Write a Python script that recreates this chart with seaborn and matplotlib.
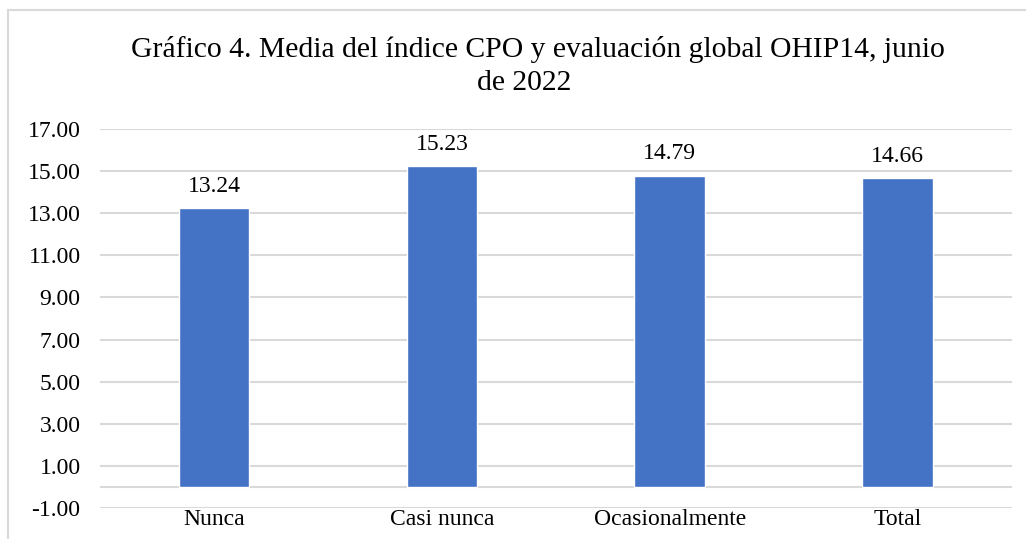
import pandas as pd
import seaborn as sns
from matplotlib import pyplot as plt
from matplotlib.patches import Rectangle

categorias = ['Nunca', 'Casi nunca', 'Ocasionalmente', 'Total']
media_cpo = [13.24, 15.23, 14.79, 14.66]
ticks_y = [-1, 1, 3, 5, 7, 9, 11, 13, 15, 17]

df = pd.DataFrame({'categoria': categorias, 'media': media_cpo})

sns.set_style('white')
plt.rcParams['font.family'] = ['Liberation Serif', 'DejaVu Serif']

fig = plt.figure(figsize=(10.26, 5.39), dpi=100)
ax = fig.add_axes([0.0975, 0.0575, 0.8885, 0.7032])
sns.barplot(data=df, x='categoria', y='media', color='#4472C4', width=0.31,
            saturation=1, ax=ax, zorder=3)

ax.set_ylim(-1, 17)
ax.set_yticks(ticks_y)
ax.set_yticklabels([f'{t:.2f}' for t in ticks_y], fontsize=17, color='black')
ax.tick_params(axis='x', labelsize=17, length=0, pad=1, labelcolor='black')
ax.tick_params(axis='y', length=0, pad=14)
for t in ticks_y:
    ax.axhline(t, color='#D9D9D9', lw=1.5, zorder=1)
ax.axhline(0, color='#D9D9D9', lw=1.5, zorder=2)
for s in ax.spines.values():
    s.set_visible(False)
ax.set_xlabel('')
ax.set_ylabel('')

for i, v in enumerate(media_cpo):
    ax.text(i, v + 0.55, f'{v:.2f}', ha='center', va='bottom', fontsize=17, color='black')

fig.text(0.5244, 0.8942, 'Gráfico 4. Media del índice CPO y evaluación global OHIP14, junio',
         ha='center', va='baseline', fontsize=21.3, color='black')
fig.text(0.5107, 0.833, 'de 2022', ha='center', va='baseline', fontsize=21.3, color='black')

fig.patches.append(Rectangle((0.008, -0.1), 1.1, 1.0814, transform=fig.transFigure,
                             fill=False, edgecolor='#D9D9D9', lw=1.5))

fig.savefig('out.png', dpi=100)
